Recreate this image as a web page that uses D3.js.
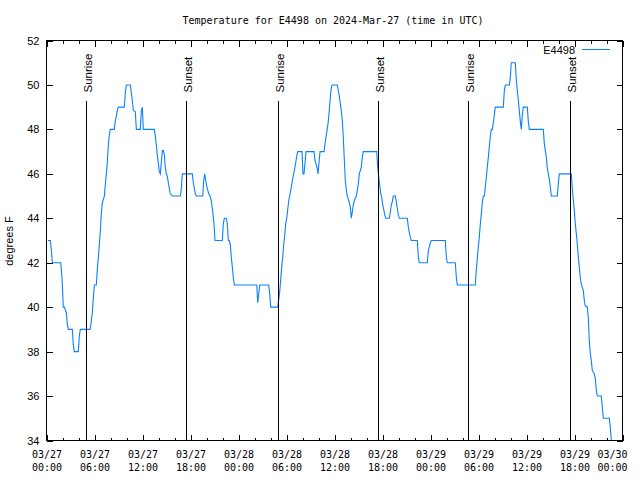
<!DOCTYPE html>
<html><head><meta charset="utf-8">
<script src="https://cdn.jsdelivr.net/npm/d3@7/dist/d3.min.js"></script>
<style>body{margin:0;background:#fff;}svg{display:block;}</style>
</head><body>
<script>
const titleText = "Temperature for E4498 on 2024-Mar-27 (time in UTC)";
const seriesName = "E4498";
const yLabelText = "degrees F";
const startUTC = Date.UTC(2024, 2, 27, 0, 0);
const spanHours = 72;

// hours since 2024-03-27 00:00 UTC
const hours = [0.19,0.48,0.6,0.73,1.78,1.94,2.1,2.23,2.48,2.6,2.73,3.23,3.35,3.48,3.98,4.1,4.23,5.44,5.56,5.73,5.85,5.98,6.23,6.35,6.48,6.6,6.73,6.85,6.98,7.23,7.35,7.48,7.6,7.73,7.85,7.98,8.48,8.6,8.73,8.85,8.98,9.73,9.85,9.98,10.48,10.6,10.73,10.85,11.1,11.23,11.73,11.85,11.98,12.1,13.48,13.6,13.73,13.85,13.98,14.1,14.23,14.48,14.6,14.73,14.85,14.98,15.1,15.23,15.35,15.48,15.73,16.73,16.85,16.98,18.23,18.35,18.48,18.6,18.73,19.53,19.65,19.78,19.9,20.06,20.28,20.44,20.6,20.78,20.94,21.06,21.98,22.1,22.23,22.48,22.6,22.73,22.85,22.98,23.1,23.23,23.35,23.48,26.28,26.4,26.65,27.78,27.9,28.03,28.9,29.03,29.15,29.28,29.4,29.53,29.65,29.78,29.9,30.03,30.28,30.4,30.53,30.65,30.78,30.9,31.03,31.15,31.28,31.4,31.94,32.06,32.19,32.44,33.44,33.56,33.81,33.94,34.19,34.69,34.81,34.94,35.06,35.19,35.31,35.44,35.56,35.69,36.35,36.48,36.6,36.73,36.85,36.98,37.1,37.23,37.35,37.48,37.6,37.73,37.85,37.98,38.1,38.23,38.35,38.48,38.73,38.85,38.98,39.1,39.23,39.35,39.48,39.6,41.28,41.4,41.53,41.65,41.78,41.9,42.03,42.15,42.28,42.4,42.85,42.98,43.1,43.23,43.35,43.6,43.73,43.85,43.98,44.1,45.1,45.23,45.35,45.48,45.6,46.35,46.48,46.6,47.6,47.73,47.85,47.98,48.1,49.85,49.98,50.1,51.1,51.23,51.35,53.6,53.73,53.85,53.98,54.1,54.23,54.35,54.48,54.6,54.73,54.85,54.98,55.1,55.23,55.35,55.48,55.6,55.73,55.85,55.98,56.1,57.1,57.23,57.35,57.85,57.98,58.1,58.6,58.73,58.85,58.98,59.1,59.23,59.35,59.48,59.6,60.1,60.23,60.35,62.1,62.23,62.35,62.48,62.6,62.73,62.85,62.98,63.1,63.85,63.98,64.1,65.6,65.73,65.85,65.98,66.1,66.23,66.35,66.48,66.6,66.73,66.85,67.1,67.23,67.35,67.6,67.73,67.85,67.98,68.1,68.23,68.48,68.6,68.73,68.85,69.35,69.48,69.6,70.35,70.48,70.6];

// temperature, degrees F
const temps = [43,43,42.6,42,42,41.3,40,40,39.75,39.25,39,39,38.3,38,38,38.7,39,39,39.25,39.75,40.4,41,41,41.7,42.25,42.8,43.45,44.2,44.7,45,45.5,46,46.5,47.3,47.75,48,48,48.4,48.6,48.85,49,49,49.65,50,50,49.65,49.3,48.85,48.8,48,48,48.8,49,48,48,47.7,47.3,46.85,46.45,46.1,46,47.05,47.05,46.85,46.3,46,45.9,45.6,45.35,45.1,45,45,45.3,46,46,45.6,45.35,45.1,45,45,45.7,46,45.7,45.4,45.1,45,44.8,44.3,43.75,43,43,43.75,44,44,43.75,43,43,42.8,42.25,41.8,41.35,41,41,40.2,41,41,40.6,40,40,40.35,40.7,41.25,41.8,42.25,42.8,43.25,43.75,44,44.8,45,45.25,45.5,45.8,46,46.25,46.5,46.8,47,47,46,46,47,47,46.6,46.3,46,47,47,47.35,47.65,47.95,48.25,48.7,49.3,49.75,50,50,49.75,49.5,49.15,48.85,48.4,47.65,46.6,45.7,45.25,45,44.85,44.7,44.5,44,44.3,44.6,44.8,45,45.25,45.55,46,46.15,46.3,46.75,47,47,46.3,45.85,45.5,45.1,44.95,44.6,44.4,44.15,44,44,44.3,44.6,44.75,45,45,44.75,44.45,44.15,44,44,43.6,43.35,43.15,43,43,42.25,42,42,42.55,42.7,42.9,43,43,42.25,42,42,41.35,41,41,41.7,42.2,42.7,43.15,43.75,44.2,44.7,45,45,45.4,45.85,46.3,46.75,47.2,47.7,48,48,48.3,48.65,49,49,49.75,50,50,50.35,51,51,50.2,49.75,49.3,48.85,48.35,48,48.65,49,49,48.35,48,48,47.35,47.05,46.75,46.25,46,45.75,45.4,45,45,45.55,46,46,45.3,44.8,44.35,43.75,43.3,42.85,42.25,41.8,41.3,41.05,40.75,40.3,40.05,40,39.5,38.5,37.9,37.6,37.15,37,36.8,36.25,36,36,35.5,35,35,34.6,34];

const sunHours = [4.98, 17.48, 28.9, 41.48, 52.73, 65.48];
const sunLabels = ["Sunrise", "Sunset", "Sunrise", "Sunset", "Sunrise", "Sunset"];
const yTicks = [34, 36, 38, 40, 42, 44, 46, 48, 50, 52];
const xMajorStepHours = 6;
const xMinorStepHours = 2;

const W = 640, H = 480;
const L = 46.5, R = 622.5, T = 40.5, B = 440.5;
const lineColor = "#0a80ff";
const sans = "'Liberation Sans', Arial, sans-serif";
const mono = "'DejaVu Sans Mono', monospace";

const svg = d3.select("body").append("svg").attr("width", W).attr("height", H);
svg.append("rect").attr("width", W).attr("height", H).attr("fill", "#fff");

const x = d3.scaleUtc()
  .domain([new Date(startUTC), new Date(startUTC + spanHours * 3600e3)])
  .range([L, R]);
const y = d3.scaleLinear().domain([34, 52]).range([B, T]);

const data = hours.map((h, i) => ({ t: new Date(startUTC + h * 3600e3), v: temps[i] }));
const majorTicks = d3.utcHour.every(xMajorStepHours).range(x.domain()[0], new Date(+x.domain()[1] + 1));
const minorTicks = d3.utcHour.every(xMinorStepHours).range(x.domain()[0], new Date(+x.domain()[1] + 1))
  .filter(d => d.getUTCHours() % xMajorStepHours !== 0);

function styleAxis(g) {
  g.select(".domain").remove();
  g.selectAll("line").attr("stroke", "#000").attr("shape-rendering", "crispEdges");
}

// minor x ticks bottom & top
svg.append("g").attr("transform", `translate(0,${B})`)
  .call(d3.axisBottom(x).tickValues(minorTicks).tickSize(-3).tickFormat(""))
  .call(styleAxis);
svg.append("g").attr("transform", `translate(0,${T})`)
  .call(d3.axisTop(x).tickValues(minorTicks).tickSize(-3).tickFormat(""))
  .call(styleAxis);
// major x ticks
const fmtDate = d3.utcFormat("%m/%d"), fmtTime = d3.utcFormat("%H:%M");
const xb = svg.append("g").attr("transform", `translate(0,${B})`)
  .call(d3.axisBottom(x).tickValues(majorTicks).tickSize(-6).tickFormat(""))
  .call(styleAxis);
xb.selectAll(".tick text").remove();
xb.selectAll(".tick").append("text")
  .attr("font-family", mono).attr("font-size", 10).attr("fill", "#000")
  .each(function(d) {
    const t = d3.select(this);
    // keep the last label inside the picture, as in the reference
    const px = x(d);
    const shift = Math.min(0, (W - 13) - (px + 15));
    t.attr("text-anchor", "middle");
    t.append("tspan").attr("x", shift).attr("y", 17.5).text(fmtDate(d));
    t.append("tspan").attr("x", shift).attr("y", 30.5).text(fmtTime(d));
  });
svg.append("g").attr("transform", `translate(0,${T})`)
  .call(d3.axisTop(x).tickValues(majorTicks).tickSize(-6).tickFormat(""))
  .call(styleAxis);

// y ticks
const yl = svg.append("g").attr("transform", `translate(${L},0)`)
  .call(d3.axisLeft(y).tickValues(yTicks).tickSize(-6).tickPadding(7).tickFormat(d3.format("d")))
  .call(styleAxis);
yl.selectAll("text").attr("font-family", sans).attr("font-size", 11).attr("fill", "#000");
svg.append("g").attr("transform", `translate(${R},0)`)
  .call(d3.axisRight(y).tickValues(yTicks).tickSize(-6).tickFormat(""))
  .call(styleAxis);

// clip & series
svg.append("clipPath").attr("id", "clip").append("rect")
  .attr("x", L).attr("y", T).attr("width", R - L).attr("height", B - T);
svg.append("path").datum(data)
  .attr("clip-path", "url(#clip)")
  .attr("fill", "none").attr("stroke", lineColor).attr("stroke-width", 1.1)
  .attr("d", d3.line().x(d => x(d.t)).y(d => y(d.v)));

// sunrise / sunset markers
const sun = svg.append("g");
sunHours.forEach((h, i) => {
  const px = Math.round(x(new Date(startUTC + h * 3600e3))) + 0.5;
  sun.append("line").attr("x1", px).attr("x2", px).attr("y1", y(34 + 18 * 0.85)).attr("y2", B)
    .attr("stroke", "#000").attr("stroke-width", 1.3).attr("shape-rendering", "crispEdges");
  sun.append("text")
    .attr("transform", `translate(${px + 5},${y(34 + 18 * 0.87)}) rotate(-90)`)
    .attr("font-family", sans).attr("font-size", 11.5).attr("fill", "#000")
    .text(sunLabels[i]);
});

// border
svg.append("rect").attr("x", L).attr("y", T).attr("width", R - L).attr("height", B - T)
  .attr("fill", "none").attr("stroke", "#000").attr("shape-rendering", "crispEdges");

// title
svg.append("text").attr("x", 333).attr("y", 23.5).attr("text-anchor", "middle")
  .attr("font-family", mono).attr("font-size", 10).attr("fill", "#000").text(titleText);

// y label
svg.append("text").attr("transform", `translate(13,241) rotate(-90)`).attr("text-anchor", "middle")
  .attr("font-family", sans).attr("font-size", 11).attr("fill", "#000").text(yLabelText);

// legend
svg.append("text").attr("x", 575).attr("y", 53.5).attr("text-anchor", "end")
  .attr("font-family", sans).attr("font-size", 11).attr("fill", "#000").text(seriesName);
svg.append("line").attr("x1", 582).attr("x2", 610).attr("y1", 49.5).attr("y2", 49.5)
  .attr("stroke", lineColor).attr("stroke-width", 1);
</script>
</body></html>
